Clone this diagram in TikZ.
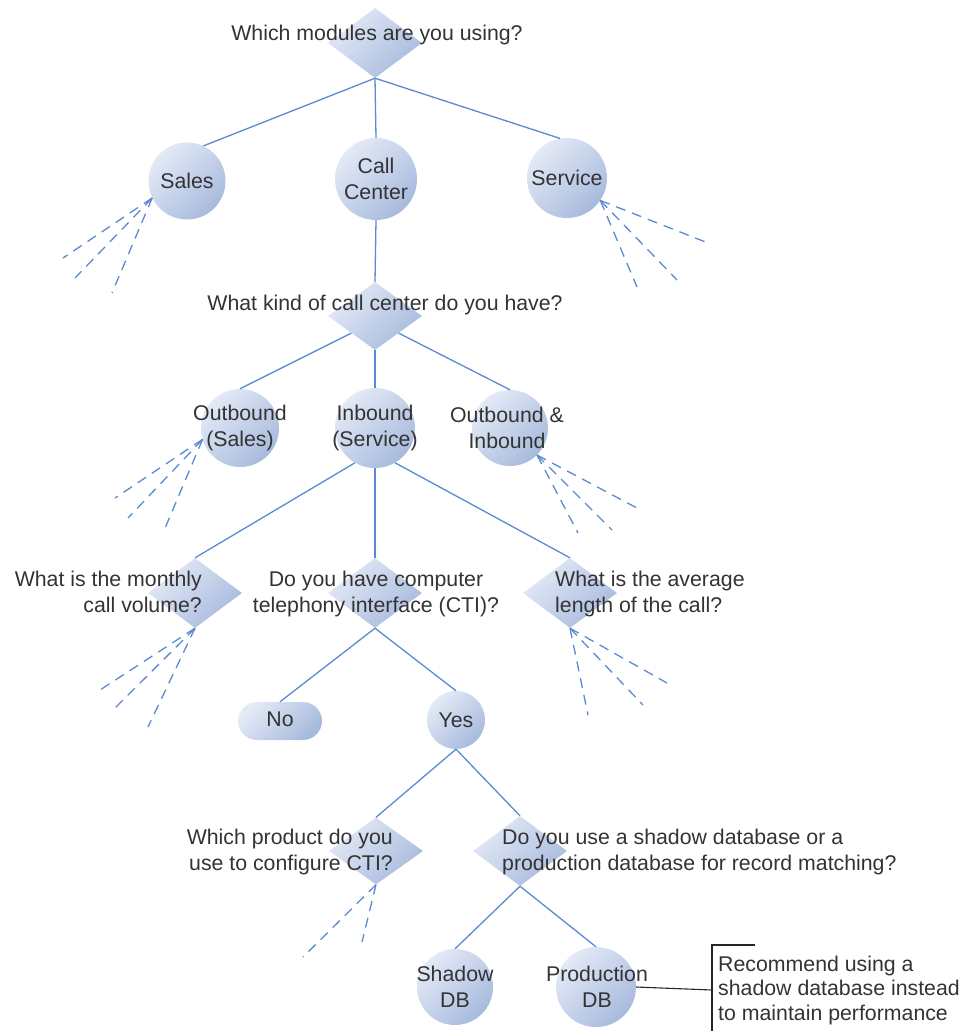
\documentclass[tikz,border=0pt]{standalone}
\usepackage{fontspec}
\setmainfont{Liberation Sans}
\usetikzlibrary{shapes.geometric}
\definecolor{edgeblue}{HTML}{5B8AD2}
\definecolor{fillhi}{HTML}{E4EAF6}
\definecolor{filllo}{HTML}{A7BADD}
\definecolor{txtgray}{HTML}{333333}

\begin{document}
\begin{tikzpicture}[x=1pt, y=-1pt, font=\fontsize{21.3}{25.5}\selectfont, text=txtgray,
  blob/.style={top color=fillhi, bottom color=filllo, shading angle=45, inner sep=0pt},
  dia/.style={blob, diamond, minimum width=94pt, minimum height=70pt},
  ball/.style={blob, circle, minimum size=#1},
  pill/.style={blob, rectangle, rounded corners=19pt, minimum width=84pt, minimum height=38pt},
  lbl/.style={inner sep=0pt, align=center},
  link/.style={draw=edgeblue, line width=1.3pt},
  more/.style={link, dash pattern=on 10pt off 7pt}]
  \useasboundingbox (0,0) rectangle (962,1031);

  \node[dia] (q1) at (375,43) {};
  \node[ball=77pt] (sales) at (187,181) {};
  \node[ball=82pt] (cc) at (376,179) {};
  \node[ball=80pt] (service) at (567,178) {};
  \node[dia, minimum height=68pt] (q2) at (375,316) {};
  \node[ball=78pt] (outb) at (240,428) {};
  \node[ball=80pt] (inb) at (375,428) {};
  \node[ball=76pt] (outin) at (510,428) {};
  \node[dia] (q3) at (195,593) {};
  \node[dia] (q4) at (375,593) {};
  \node[dia] (q5) at (570,593) {};
  \node[pill] (no) at (280,721) {};
  \node[ball=58pt] (yes) at (456,720) {};
  \node[dia, minimum height=67pt] (q6) at (376,851) {};
  \node[dia] (q7) at (520,851) {};
  \node[ball=76pt] (shadow) at (455,987) {};
  \node[ball=80pt] (prod) at (596,987) {};

  \node[lbl, anchor=base] (q1t) at (377,40) {Which modules are you using?};
  \node[lbl] (salest) at (sales) {Sales};
  \node[lbl] (cct) at (cc) {Call\\Center};
  \node[lbl] (servicet) at (service) {Service};
  \node[lbl, anchor=base] (q2t) at (385,310) {What kind of call center do you have?};
  \node[lbl] (outbt) at (outb) {Outbound\\(Sales)};
  \node[lbl] (inbt) at (inb) {Inbound\\(Service)};
  \node[lbl] (outint) at ([xshift=-3pt]outin) {Outbound \&\\Inbound};
  \node[lbl, anchor=base east, align=right] (q3t) at (202,612) {What is the monthly\\call volume?};
  \node[lbl, anchor=base] (q4t) at (376,612) {Do you have computer\\telephony interface (CTI)?};
  \node[lbl, anchor=base west, align=left] (q5t) at (555,612) {What is the average\\length of the call?};
  \node[lbl] (not) at ([yshift=2pt]no) {No};
  \node[lbl] (yest) at (yes) {Yes};
  \node[lbl, anchor=base east, align=right] (q6t) at (393,870) {Which product do you\\use to configure CTI?};
  \node[lbl, anchor=base west, align=left] (q7t) at (502,870) {Do you use a shadow database or a\\production database for record matching?};
  \node[lbl] (shadowt) at (shadow) {Shadow\\DB};
  \node[lbl] (prodt) at ([xshift=1pt]prod) {Production\\DB};
  \node[lbl, anchor=base west, align=left, font=\fontsize{21.3}{24.5}\selectfont] (notet) at (718,1020)
    {Recommend using a\\shadow database instead\\to maintain performance};

  \draw[link] (q1.south) -- (sales.65);
  \draw[link] (q1.south) -- (cc.north);
  \draw[link] (q1.south) -- (service.100);
  \draw[link] (cc.south) -- (q2.north);
  \draw[link] (q2.south west) -- (outb.north);
  \draw[link] (q2.south) -- (inb.north);
  \draw[link] (q2.south east) -- (outin.north);
  \draw[link] (inb.240) -- (q3.north);
  \draw[link] (inb.south) -- (q4.north);
  \draw[link] (inb.300) -- (q5.north);
  \draw[link] (q4.south) -- (no.north);
  \draw[link] (q4.south) -- (yes.north);
  \draw[link] (yes.south) -- (q6.north);
  \draw[link] (yes.south) -- (q7.north);
  \draw[link] (q7.south) -- (shadow.north);
  \draw[link] (q7.south) -- (prod.north);

  \foreach \n/\x/\y in {sa1/63/258, sa2/75/278, sa3/112/293, se1/708/243, se2/677/280, se3/637/287,
      ob1/115/498, ob2/128/518, ob3/163/533, oi1/637/508, oi2/612/530, oi3/578/533,
      mv1/100/690, mv2/115/708, mv3/148/727, al1/667/683, al2/643/705, al3/588/715,
      ct1/303/957, ct2/362/942}
    \coordinate (\n) at (\x,\y);
  \foreach \n in {sa1,sa2,sa3} \draw[more] (sales.206) -- (\n);
  \foreach \n in {se1,se2,se3} \draw[more] (service.326) -- (\n);
  \foreach \n in {ob1,ob2,ob3} \draw[more] (outb.197) -- (\n);
  \foreach \n in {oi1,oi2,oi3} \draw[more] (outin.315) -- (\n);
  \foreach \n in {mv1,mv2,mv3} \draw[more] (q3.south) -- (\n);
  \foreach \n in {al1,al2,al3} \draw[more] (q5.south) -- (\n);
  \foreach \n in {ct1,ct2} \draw[more] (q6.south) -- (\n);

  \coordinate (br1) at (755,945);
  \coordinate (br2) at (712,945);
  \coordinate (br3) at (712,1031);
  \coordinate (brmid) at (712,990);
  \draw[black!85, line width=1.1pt] (br1) -- (br2) -- (br3);
  \draw[black!85, line width=1.1pt] (prod.east) -- (brmid);
\end{tikzpicture}
\end{document}
